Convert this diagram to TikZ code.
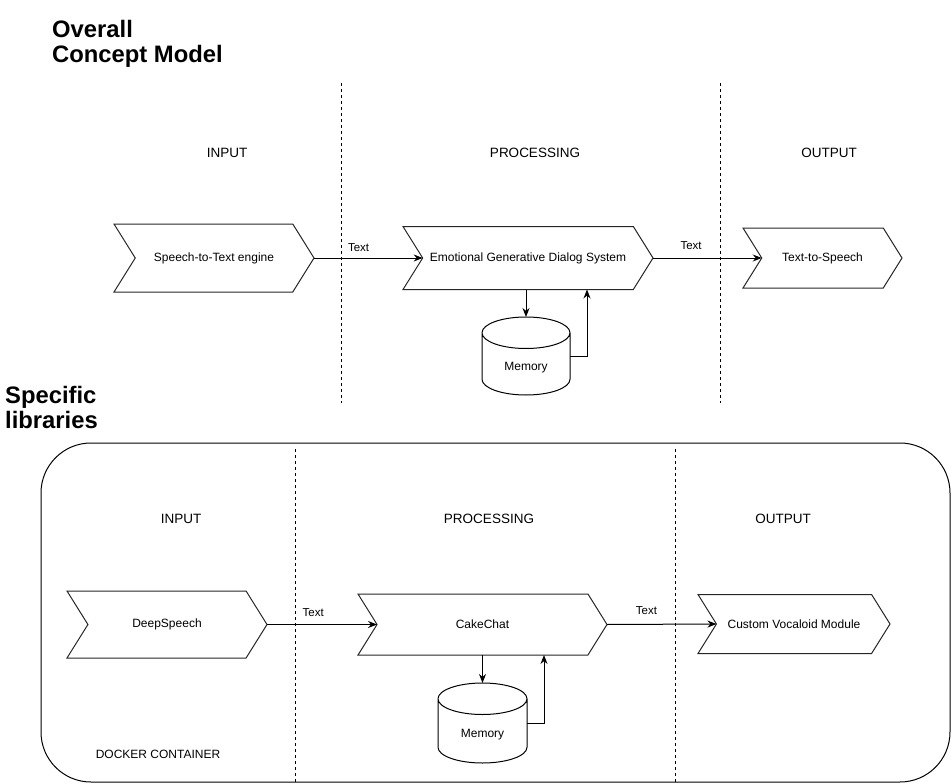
\documentclass[tikz,border=0pt]{standalone}
\usepackage{fontspec}
\setmainfont{Liberation Sans}
\usetikzlibrary{shapes.symbols,shapes.geometric,arrows.meta,calc}

\tikzset{
  chevron/.style={signal, signal from=west, signal to=east, signal pointer angle=116,
    draw=black!85, line width=1pt, inner sep=0pt, outer sep=0pt,
    font=\fontsize{12}{14}\selectfont},
  db/.style={cylinder, shape border rotate=90, aspect=0.7, draw, line width=1pt,
    inner sep=0pt, outer sep=0pt, anchor=shape center},
  dbtext/.style={font=\fontsize{12}{14}\selectfont, inner sep=0pt},
  lane/.style={font=\fontsize{13.5}{16}\selectfont},
  flow/.style={-{Stealth[length=9pt,width=7pt]}, line width=1pt},
  divider/.style={dash pattern=on 3pt off 3pt, line width=1pt},
  heading/.style={font=\bfseries\fontsize{23.8}{25}\selectfont, align=left,
    anchor=north west, inner sep=0pt},
  edgetext/.style={font=\fontsize{11.5}{13}\selectfont, inner sep=0pt},
}
% flat box that sets the cylinder's cap
\newcommand{\dbcap}{\rule{45pt}{0pt}}

\begin{document}
\begin{tikzpicture}[x=1pt, y=-1pt]
\useasboundingbox (0,0) rectangle (951,784);

% overall concept model
\node[heading] (title1) at (52,20) {Overall\\Concept Model};
\draw[divider] (341,83) -- (341,403);
\draw[divider] (720,83) -- (720,403);
\node[lane] (in1) at (227,153) {INPUT};
\node[lane] (proc1) at (535,153) {PROCESSING};
\node[lane] (out1) at (829,153) {OUTPUT};

\node[chevron, minimum width=200pt, minimum height=68pt] (stt) at (214,258) {Speech-to-Text engine};
\node[chevron, minimum width=250pt, minimum height=63pt] (egds) at (528,258) {Emotional Generative Dialog System};
\node[chevron, minimum width=159pt, minimum height=60pt] (tts) at (822.5,258) {Text-to-Speech};
\node[db, minimum width=88pt, minimum height=78pt] (mem1) at (526,356) {\dbcap};
\node[dbtext] (mem1text) at ($(mem1.shape center)+(0,12)$) {Memory};

\draw[flow] (stt.east) -- (egds.west) node[edgetext, pos=.41, above=6pt] {Text};
\draw[flow] (egds.east) -- (tts.west) node[edgetext, pos=.35, above=8pt] {Text};
\draw[flow] (mem1.north |- egds.south) -- (mem1.north);
\draw[flow] (mem1.east |- mem1.shape center) -| ($(egds.south)+(59,0)$);

% specific libraries
\node[heading] (title2) at (5,386) {Specific\\libraries};
\draw[line width=1pt, rounded corners=50pt] (41,443) rectangle (950,782);
\draw[divider] (295,449) -- (295,784);
\draw[divider] (675,449) -- (675,784);
\node[lane] (in2) at (181,519) {INPUT};
\node[lane] (proc2) at (489,519) {PROCESSING};
\node[lane] (out2) at (783,519) {OUTPUT};
\node[font=\fontsize{12}{14}\selectfont] (docker) at (158,754) {DOCKER CONTAINER};

\node[chevron, minimum width=200pt, minimum height=67pt] (ds) at (167,624.5) {DeepSpeech};
\node[chevron, minimum width=249pt, minimum height=61pt] (cc) at (482.5,624.5) {CakeChat};
\node[chevron, minimum width=192pt, minimum height=59pt] (cvm) at (794,624) {Custom Vocaloid Module};
\node[db, minimum width=89pt, minimum height=80pt] (mem2) at (482.5,723) {\dbcap};
\node[dbtext] (mem2text) at ($(mem2.shape center)+(0,12)$) {Memory};

\draw[flow] (ds.east) -- (cc.west) node[edgetext, pos=.42, above=7pt] {Text};
\draw[flow] (cc.east) -- (cvm.west) node[edgetext, pos=.36, above=9pt] {Text};
\draw[flow] (mem2.north |- cc.south) -- (mem2.north);
\draw[flow] (mem2.east |- mem2.shape center) -| ($(cc.south)+(61.5,0)$);
\end{tikzpicture}
\end{document}
